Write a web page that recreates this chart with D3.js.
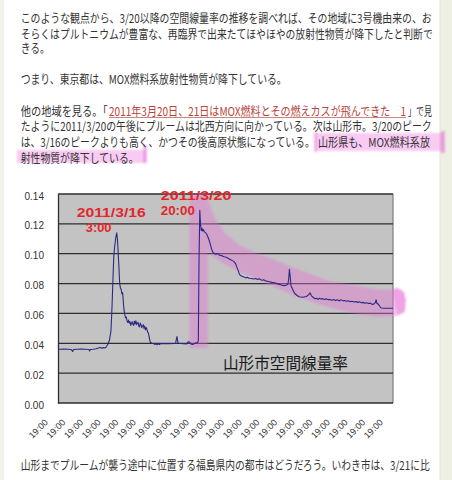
<!DOCTYPE html>
<html>
<head>
<meta charset="utf-8">
<script src="https://cdn.jsdelivr.net/npm/d3@7"></script>
<style>
html,body{margin:0;padding:0;background:#fff;overflow:hidden}
svg{display:block}
</style>
</head>
<body>
<svg id="page" width="452" height="480"></svg>
<script>
// ---- hourly air dose rate, Yamagata City (μSv/h) ----
const times = [
"2011-03-12 19:00","2011-03-12 23:00","2011-03-13 03:00","2011-03-13 08:00","2011-03-13 13:00","2011-03-13 15:00","2011-03-13 16:00","2011-03-13 21:00",
"2011-03-14 03:00","2011-03-14 08:00","2011-03-14 13:00","2011-03-14 14:00","2011-03-14 15:00","2011-03-14 19:00","2011-03-14 23:00",
"2011-03-15 02:00","2011-03-15 05:00","2011-03-15 07:00","2011-03-15 09:00","2011-03-15 11:00","2011-03-15 13:00","2011-03-15 15:00","2011-03-15 17:00",
"2011-03-15 19:00","2011-03-15 20:00","2011-03-15 21:00","2011-03-15 22:00","2011-03-15 23:00",
"2011-03-16 00:00","2011-03-16 01:00","2011-03-16 02:00","2011-03-16 03:00","2011-03-16 04:00","2011-03-16 05:00","2011-03-16 06:00","2011-03-16 07:00",
"2011-03-16 08:00","2011-03-16 09:00","2011-03-16 10:00","2011-03-16 11:00","2011-03-16 12:00","2011-03-16 13:00","2011-03-16 14:00","2011-03-16 15:00",
"2011-03-16 16:00","2011-03-16 17:00","2011-03-16 18:00","2011-03-16 19:00","2011-03-16 20:00","2011-03-16 21:00","2011-03-16 22:00","2011-03-16 23:00",
"2011-03-17 00:00","2011-03-17 01:00","2011-03-17 02:00","2011-03-17 03:00","2011-03-17 04:00","2011-03-17 05:00","2011-03-17 06:00","2011-03-17 07:00",
"2011-03-17 08:00","2011-03-17 09:00","2011-03-17 10:00","2011-03-17 11:00","2011-03-17 12:00","2011-03-17 13:00","2011-03-17 14:00","2011-03-17 15:00",
"2011-03-17 16:00","2011-03-17 17:00","2011-03-17 18:00","2011-03-17 19:00","2011-03-17 20:00","2011-03-17 21:00","2011-03-17 22:00","2011-03-17 23:00",
"2011-03-18 00:00","2011-03-18 01:00","2011-03-18 03:00","2011-03-18 05:00","2011-03-18 07:00","2011-03-18 08:00","2011-03-18 10:00","2011-03-18 11:00",
"2011-03-18 13:00","2011-03-18 15:00","2011-03-18 20:00","2011-03-19 03:00","2011-03-19 09:00","2011-03-19 11:00","2011-03-19 12:00","2011-03-19 13:00",
"2011-03-19 14:00","2011-03-19 15:00","2011-03-19 22:00","2011-03-20 02:00","2011-03-20 04:00","2011-03-20 06:00","2011-03-20 08:00","2011-03-20 10:00",
"2011-03-20 13:00","2011-03-20 15:00","2011-03-20 17:00","2011-03-20 18:00","2011-03-20 19:00","2011-03-20 20:00","2011-03-20 21:00","2011-03-20 22:00",
"2011-03-20 23:00","2011-03-21 00:00","2011-03-21 01:00","2011-03-21 02:00","2011-03-21 04:00","2011-03-21 06:00","2011-03-21 08:00","2011-03-21 10:00",
"2011-03-21 12:00","2011-03-21 14:00","2011-03-21 16:00","2011-03-21 18:00","2011-03-21 20:00","2011-03-21 23:00","2011-03-22 02:00","2011-03-22 05:00",
"2011-03-22 08:00","2011-03-22 11:00","2011-03-22 14:00","2011-03-22 17:00","2011-03-22 19:00","2011-03-22 21:00","2011-03-22 22:00","2011-03-23 00:00",
"2011-03-23 02:00","2011-03-23 04:00","2011-03-23 07:00","2011-03-23 09:00","2011-03-23 11:00","2011-03-23 13:00","2011-03-23 15:00","2011-03-23 18:00",
"2011-03-23 21:00","2011-03-24 00:00","2011-03-24 02:00","2011-03-24 05:00","2011-03-24 07:00","2011-03-24 09:00","2011-03-24 11:00","2011-03-24 13:00",
"2011-03-24 16:00","2011-03-24 19:00","2011-03-24 22:00","2011-03-25 02:00","2011-03-25 06:00","2011-03-25 10:00","2011-03-25 14:00","2011-03-25 17:00",
"2011-03-25 20:00","2011-03-25 21:00","2011-03-25 22:00","2011-03-25 23:00","2011-03-26 00:00","2011-03-26 01:00","2011-03-26 03:00","2011-03-26 05:00",
"2011-03-26 08:00","2011-03-26 11:00","2011-03-26 16:00","2011-03-26 21:00","2011-03-27 00:00","2011-03-27 02:00","2011-03-27 04:00","2011-03-27 07:00",
"2011-03-27 09:00","2011-03-27 11:00","2011-03-27 13:00","2011-03-27 15:00","2011-03-27 17:00","2011-03-27 19:00","2011-03-27 22:00","2011-03-28 00:00",
"2011-03-28 03:00","2011-03-28 05:00","2011-03-28 08:00","2011-03-28 10:00","2011-03-28 13:00","2011-03-28 15:00","2011-03-28 18:00","2011-03-28 20:00",
"2011-03-28 23:00","2011-03-29 01:00","2011-03-29 04:00","2011-03-29 06:00","2011-03-29 09:00","2011-03-29 11:00","2011-03-29 14:00","2011-03-29 16:00",
"2011-03-29 19:00","2011-03-29 21:00","2011-03-30 00:00","2011-03-30 02:00","2011-03-30 05:00","2011-03-30 07:00","2011-03-30 10:00","2011-03-30 12:00",
"2011-03-30 15:00","2011-03-30 17:00","2011-03-30 19:00","2011-03-30 20:00","2011-03-30 21:00","2011-03-30 23:00","2011-03-31 01:00","2011-03-31 03:00",
"2011-03-31 08:00","2011-03-31 13:00","2011-03-31 19:00"
];
const doseRate = [
0.036,0.036,0.0362,0.036,0.0358,0.0345,0.0358,0.036,
0.0361,0.036,0.0358,0.0348,0.0358,0.036,0.0363,
0.0368,0.0372,0.0366,0.0371,0.0368,0.0378,0.0395,0.042,
0.048,0.058,0.071,0.086,0.099,
0.104,0.108,0.112,0.114,0.109,0.100,0.090,0.080,
0.077,0.076,0.073,0.074,0.067,0.062,0.059,0.057,
0.0575,0.055,0.054,0.0555,0.0535,0.0545,0.052,0.0535,
0.0545,0.0525,0.052,0.0548,0.053,0.055,0.0525,0.0535,
0.054,0.0515,0.051,0.0535,0.0525,0.0505,0.0515,0.0525,
0.050,0.0515,0.049,0.0505,0.0495,0.0475,0.047,0.0445,
0.042,0.0405,0.040,0.0398,0.0392,0.0398,0.039,0.0398,
0.0392,0.0398,0.0397,0.0398,0.0399,0.040,0.0425,0.0445,
0.041,0.040,0.0398,0.0396,0.041,0.0408,0.0396,0.0392,
0.0398,0.0404,0.0404,0.042,0.098,0.129,0.120,0.1155,
0.117,0.1152,0.1162,0.1148,0.114,0.1125,0.110,0.107,
0.103,0.1008,0.100,0.0997,0.1002,0.099,0.0987,0.098,
0.0976,0.0968,0.096,0.0952,0.0945,0.093,0.0915,0.089,
0.0862,0.0852,0.0846,0.0842,0.0838,0.0842,0.0836,0.0834,
0.083,0.0834,0.0828,0.0832,0.0826,0.0822,0.0826,0.0818,
0.0816,0.0812,0.0808,0.0806,0.0798,0.0792,0.0786,0.0788,
0.0795,0.083,0.0895,0.085,0.079,0.0775,0.0755,0.0735,
0.0722,0.0712,0.0708,0.0713,0.0724,0.0738,0.0718,0.0705,
0.0698,0.0702,0.0694,0.0702,0.0696,0.0699,0.0693,0.0698,
0.0691,0.0694,0.0688,0.0693,0.0686,0.0691,0.0684,0.0692,
0.0684,0.0686,0.0681,0.0685,0.0678,0.0682,0.0676,0.068,
0.0674,0.0678,0.0671,0.0674,0.0668,0.0672,0.0666,0.0669,
0.066,0.0664,0.0672,0.0692,0.0668,0.0662,0.0648,0.0636,
0.0635,0.0635,0.0635
];
const timeRange = ["2011-03-12 19:00","2011-03-31 19:00"];
const yTicks = [0,0.02,0.04,0.06,0.08,0.10,0.12,0.14];
const xTickLabel = "19:00";
const chartTitle = "山形市空間線量率";
const peakTimes = ["2011-03-16 03:00","2011-03-20 20:00"];
const peakLabels = [["2011/3/16","3:00"],["2011/3/20","20:00"]];
// highlighter stroke along the 3/20 rise and the slow decay (hours from start, value)
const markerBand = [
[179.7,0.1387],[202.8,0.1400],[206.9,0.1333],[215.1,0.1226],[227.3,0.1139],[247.8,0.1058],[270.9,0.1005],
[295.4,0.0958],[315.8,0.0918],[343.0,0.0864],[370.3,0.0817],[407.0,0.0784],[431.5,0.0764],[452.0,0.0757],
[462.8,0.0770],[471.0,0.0744],[473.7,0.0690],[472.4,0.0610],[460.1,0.0583],[438.3,0.0576],[407.0,0.0596],
[377.1,0.0630],[349.9,0.0670],[322.6,0.0717],[295.4,0.0777],[270.9,0.0831],[247.8,0.0877],[224.6,0.0938],
[209.6,0.0991],[204.2,0.1025],[204.2,0.0368],[179.7,0.0368]
];
// where the pen came to rest at the right end
const markerTip = [[456,0.0766],[463,0.0772],[471.5,0.0742],[474,0.0690],[472.6,0.0610],[462,0.0585],[458,0.0680]];

// ---- surrounding article text ----
const paraTop = [
"このような観点から、3/20以降の空間線量率の推移を調べれば、その地域に3号機由来の、お",
"そらくはプルトニウムが豊富な、再臨界で出来たてほやほやの放射性物質が降下したと判断で",
"きる。"
];
const paraTokyo = "つまり、東京都は、MOX燃料系放射性物質が降下している。";
const paraOtherA = "他の地域を見る。「";
const paraOtherLink = "2011年3月20日、21日はMOX燃料とその燃えカスが飛んできた　1";
const paraOtherB = "」で見";
const paraOther2 = "たように2011/3/20の午後にプルームは北西方向に向かっている。次は山形市。3/20のピーク";
const paraOther3a = "は、3/16のピークよりも高く、かつその後高原状態になっている。";
const paraOther3b = "山形県も、MOX燃料系放";
const paraOther4 = "射性物質が降下している。";
const paraBottom = "山形までプルームが襲う途中に位置する福島県内の都市はどうだろう。いわき市は、3/21に比";

const svg = d3.select("#page");
const JP = "'Noto Sans CJK JP','Noto Sans',sans-serif";
const parse = d3.timeParse("%Y-%m-%d %H:%M");

const defs = svg.append("defs");
defs.append("filter").attr("id","soft").append("feGaussianBlur").attr("stdDeviation",0.8);

// page background + side columns
svg.append("rect").attr("width",452).attr("height",480).attr("fill","#ffffff");
svg.append("rect").attr("x",440).attr("width",12).attr("height",480).attr("fill","#edf0e2");
svg.append("rect").attr("x",439.5).attr("width",1).attr("height",480).attr("fill","#e2e6d6");
svg.append("rect").attr("x",0).attr("width",4).attr("height",480).attr("fill","#f1f3ea");

// ---- text highlights ----
const hl = svg.append("g").attr("filter","url(#soft)");
hl.append("rect").attr("x",315).attr("y",133).attr("width",128).attr("height",18).attr("fill","rgba(240,130,225,0.42)");
hl.append("rect").attr("x",314).attr("y",132).attr("width",3).attr("height",20).attr("fill","rgba(230,110,215,0.42)");
hl.append("rect").attr("x",441).attr("y",131).attr("width",4).attr("height",22).attr("fill","rgba(230,110,215,0.55)");
hl.append("rect").attr("x",17).attr("y",150).attr("width",129).attr("height",13).attr("fill","rgba(240,130,225,0.42)");
hl.append("rect").attr("x",143).attr("y",145).attr("width",4).attr("height",18).attr("fill","rgba(230,110,215,0.5)");

function line(txt, x, y, len, color){
  return svg.append("text").attr("x",x).attr("y",y).attr("font-family",JP).attr("font-size",12.2)
    .attr("fill",color||"#333").attr("textLength",len).attr("lengthAdjust","spacingAndGlyphs").text(txt);
}
line(paraTop[0],20.7,22.5,411);
line(paraTop[1],20.7,38.5,412);
line(paraTop[2],20.7,53,29);
line(paraTokyo,20.7,84,266);
line(paraOtherA,20.7,115.5,87);
line(paraOtherLink,109,115.5,297,"#b8453a");
svg.append("line").attr("x1",109).attr("x2",406).attr("y1",117.5).attr("y2",117.5).attr("stroke","#c0675d").attr("stroke-width",0.8);
line(paraOtherB,408,115.5,24);
line(paraOther2,20.7,131,411);
line(paraOther3a,20.7,147,294);
line(paraOther3b,318,147,112);
line(paraOther4,20.7,162.5,118);
line(paraBottom,20.7,470,409);

// ---- chart ----
const x = d3.scaleTime().domain(timeRange.map(parse)).range([58,393]);
const y = d3.scaleLinear().domain([0,0.14]).range([403,194]);
const data = times.map((t,i)=>({t:parse(t), v:doseRate[i]}));
const start = parse(timeRange[0]);

const chart = svg.append("g");
chart.append("rect").attr("x",x.range()[0]).attr("y",y(0.14))
  .attr("width",x.range()[1]-x.range()[0]).attr("height",y(0)-y(0.14)).attr("fill","#c3c3c3");
chart.append("line").attr("x1",x.range()[1]).attr("x2",x.range()[1]).attr("y1",y(0.14)).attr("y2",y(0))
  .attr("stroke","#7d7d7d").attr("stroke-width",1.2);
chart.selectAll("line.grid").data(yTicks).join("line").attr("class","grid")
  .attr("x1",x.range()[0]).attr("x2",x.range()[1]).attr("y1",d=>y(d)).attr("y2",d=>y(d))
  .attr("stroke","#2e2e2e").attr("stroke-width",1.3);

// y axis
const yAxis = chart.append("g").attr("transform",`translate(${x.range()[0]},0)`)
  .call(d3.axisLeft(y).tickValues(yTicks).tickFormat(d3.format(".2f")).tickSize(0).tickPadding(14));
yAxis.select(".domain").attr("stroke","#2e2e2e").attr("stroke-width",1.3);
yAxis.selectAll("text").attr("font-family","'Liberation Sans',Arial,sans-serif").attr("font-size",10).attr("fill","#333").attr("dy","0.5em");

// x axis: one label per day at 19:00, rotated
const dayTicks = d3.range(20).map(i=>d3.timeHour.offset(start,24*i));
const xAxis = chart.append("g").attr("transform",`translate(0,${y(0)})`)
  .call(d3.axisBottom(x).tickValues(dayTicks).tickFormat(()=>xTickLabel).tickSize(0));
xAxis.select(".domain").remove();
xAxis.selectAll("text").attr("font-family","'Liberation Sans',Arial,sans-serif").attr("font-size",9).attr("fill","#333")
  .attr("text-anchor","end").attr("dy",0).attr("y",0)
  .attr("transform","translate(-10,20) rotate(-45)");

// title inside the plot
chart.append("text").attr("x",223).attr("y",369).attr("font-family",JP).attr("font-size",16)
  .attr("fill","#1a1a1a").attr("textLength",125).attr("lengthAdjust","spacingAndGlyphs").text(chartTitle);

// highlighter band
const toPx = ([h,v])=>[x(d3.timeHour.offset(start,h)), y(v)];
const bandG = chart.append("g").attr("filter","url(#soft)");
bandG.append("path").attr("d",d3.line().curve(d3.curveLinearClosed)(markerBand.map(toPx)))
  .attr("fill","rgba(228,115,212,0.42)");
bandG.append("path").attr("d",d3.line().curve(d3.curveLinearClosed)(markerTip.map(toPx)))
  .attr("fill","rgba(230,100,210,0.35)");

// series line
chart.append("path").datum(data)
  .attr("d",d3.line().x(d=>x(d.t)).y(d=>y(d.v)))
  .attr("fill","none").attr("stroke","#2a2a86").attr("stroke-width",1.1).attr("stroke-linejoin","round");

// peak annotations
const noteOffsets = [[[-40,-16],[-31,-1]],[[-39,-10],[-39,5]]];
const noteLens = [[69,25.7],[70.7,34]];
peakTimes.forEach((pt,i)=>{
  const t = parse(pt);
  const d = data.find(e=>+e.t===+t);
  const px = x(t), py = y(d.v);
  peakLabels[i].forEach((s,j)=>{
    chart.append("text").attr("x",px+noteOffsets[i][j][0]).attr("y",py+noteOffsets[i][j][1])
      .attr("font-family","'Liberation Sans',Arial,sans-serif").attr("font-weight","bold").attr("font-size",12)
      .attr("fill","#e3262b").attr("textLength",noteLens[i][j]).attr("lengthAdjust","spacingAndGlyphs").text(s);
  });
});
</script>
</body>
</html>
